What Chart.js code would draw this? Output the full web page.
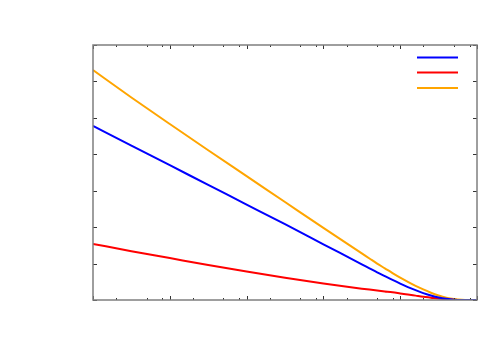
<!DOCTYPE html>
<html>
<head>
<meta charset="utf-8">
<script src="https://cdn.jsdelivr.net/npm/chart.js@4"></script>
<style>
html,body{margin:0;padding:0;background:#fff;}
#wrap{width:500px;height:350px;}
</style>
</head>
<body>
<div id="wrap"><canvas id="c" width="500" height="350"></canvas></div>
<script>
const xValues = [1, 3.162, 10, 31.62, 100, 316.2, 1000, 3162, 3981, 5012, 6310, 7943, 10000, 12589, 15849, 19953, 25119, 31623, 39811, 50119, 63096, 79433, 100000];
const blueValues = [4.78, 4.24, 3.70, 3.16, 2.62, 2.08, 1.53, 0.98, 0.87, 0.76, 0.655, 0.55, 0.45, 0.355, 0.27, 0.19, 0.125, 0.07, 0.032, 0.01, 0.001, 0, 0];
const redValues = [1.54, 1.34, 1.15, 0.96, 0.78, 0.61, 0.45, 0.31, 0.285, 0.26, 0.235, 0.21, 0.18, 0.15, 0.12, 0.09, 0.065, 0.04, 0.02, 0.007, 0.001, 0, 0];
const orangeValues = [6.31, 5.56, 4.83, 4.11, 3.40, 2.69, 1.98, 1.28, 1.14, 1.00, 0.87, 0.74, 0.615, 0.50, 0.39, 0.29, 0.20, 0.125, 0.065, 0.025, 0.005, 0, 0];
const seriesLabels = ["", "", ""];
const xMajorTicks = [1, 10, 100, 1000, 10000, 100000];
const xMinorTicks = [2, 5, 8, 20, 50, 80, 200, 500, 800, 2000, 5000, 8000, 20000, 50000, 80000];
const yTicks = [0, 1, 2, 3, 4, 5, 6, 7];

function pts(vals){ return xValues.map((x,i)=>({x:x, y:vals[i]})); }

const tickPlugin = {
  id: 'gnuTicks',
  afterDatasetsDraw(chart){
    const ctx = chart.ctx;
    const xs = chart.scales.x, ys = chart.scales.y;
    const a = chart.chartArea;
    ctx.save();
    ctx.strokeStyle = '#333';
    ctx.lineWidth = 1;
    ctx.beginPath();
    const tick = (v, len) => {
      const px = Math.round(xs.getPixelForValue(v)) + 0.5;
      ctx.moveTo(px, a.bottom); ctx.lineTo(px, a.bottom - len);
      ctx.moveTo(px, a.top); ctx.lineTo(px, a.top + len);
    };
    xMajorTicks.forEach(v=>tick(v,4));
    xMinorTicks.forEach(v=>tick(v,2));
    yTicks.forEach(v=>{
      const py = Math.round(ys.getPixelForValue(v)) + 0.5;
      ctx.moveTo(a.left, py); ctx.lineTo(a.left + 4, py);
      ctx.moveTo(a.right, py); ctx.lineTo(a.right - 4, py);
    });
    ctx.stroke();
    // legend samples
    ctx.lineWidth = 2;
    const ly = [57.5, 72.5, 88];
    chart.data.datasets.forEach((ds, i)=>{
      ctx.strokeStyle = ds.borderColor;
      ctx.beginPath();
      ctx.moveTo(417, ly[i]); ctx.lineTo(458, ly[i]);
      ctx.stroke();
    });
    // frame
    ctx.strokeStyle = '#7f7f7f';
    ctx.lineWidth = 1.5;
    ctx.strokeRect(a.left, a.top, a.right - a.left, a.bottom - a.top);
    ctx.restore();
  }
};

new Chart(document.getElementById('c'), {
  type: 'line',
  data: {
    datasets: [
      {label: seriesLabels[0], data: pts(blueValues), borderColor: '#0000ff', borderWidth: 2, pointRadius: 0, cubicInterpolationMode: 'monotone', fill: false},
      {label: seriesLabels[1], data: pts(redValues), borderColor: '#ff0000', borderWidth: 2, pointRadius: 0, cubicInterpolationMode: 'monotone', fill: false},
      {label: seriesLabels[2], data: pts(orangeValues), borderColor: '#ffa500', borderWidth: 2, pointRadius: 0, cubicInterpolationMode: 'monotone', fill: false}
    ]
  },
  options: {
    responsive: false,
    animation: false,
    layout: {padding: {left: 93, right: 23, top: 45, bottom: 50}},
    plugins: {legend: {display: false}, tooltip: {enabled: false}},
    scales: {
      x: {type: 'logarithmic', min: 1, max: 100000, display: true,
          ticks: {display: false}, grid: {display: false, drawTicks: false}, border: {display: false}},
      y: {type: 'linear', min: 0, max: 7, display: true,
          ticks: {display: false}, grid: {display: false, drawTicks: false}, border: {display: false}}
    }
  },
  plugins: [tickPlugin]
});
</script>
</body>
</html>
